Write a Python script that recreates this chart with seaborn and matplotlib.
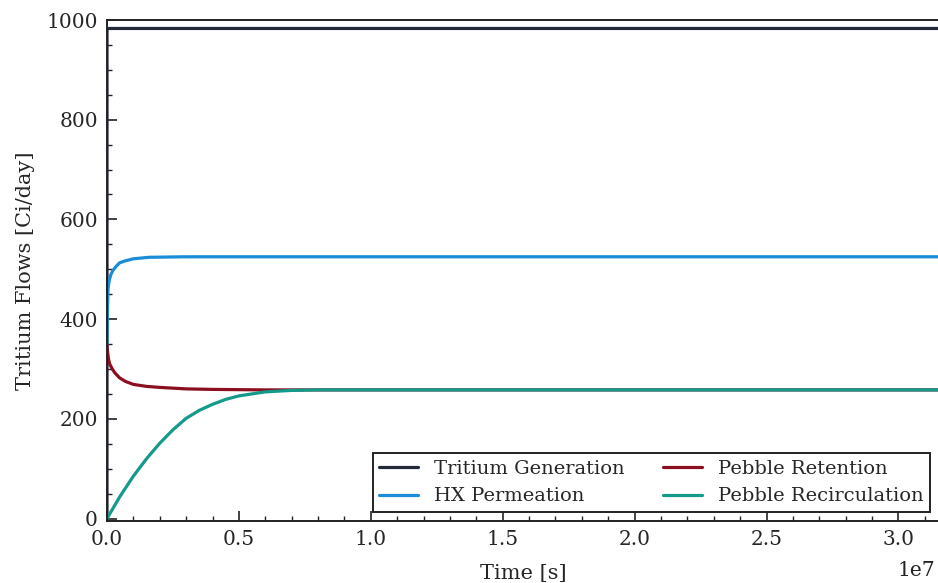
import numpy as np
import pandas as pd
import matplotlib
matplotlib.use("Agg")
import matplotlib.pyplot as plt
import seaborn as sns

# ---- data (time in units of 1e7 s, flows in Ci/day) ----
series_names = ["Tritium Generation", "HX Permeation", "Pebble Retention", "Pebble Recirculation"]
colors = ["#232b3b", "#1a8cd8", "#8c0f1f", "#139a8a"]

gen_t = [0.0, 0.0001, 3.1536]
gen_v = [0, 983, 983]

hx_t = [0.0, 0.001, 0.002, 0.004, 0.007, 0.01, 0.015, 0.023, 0.035, 0.048, 0.07, 0.1, 0.16, 0.29, 0.5, 1.0, 3.1536]
hx_v = [341, 395, 425, 461, 473, 481, 490, 498, 506, 513, 517, 521, 524, 525, 525, 525, 525]

ret_t = [0.0, 0.002, 0.005, 0.01, 0.02, 0.03, 0.048, 0.07, 0.1, 0.15, 0.2, 0.3, 0.4, 0.6, 1.0, 3.1536]
ret_v = [348, 335, 322, 310, 300, 292, 282, 275, 269, 265, 263, 260, 259, 258, 258, 258]

rec_t = [0.0, 0.05, 0.1, 0.15, 0.2, 0.25, 0.3, 0.35, 0.4, 0.45, 0.5, 0.6, 0.7, 0.8, 1.0, 3.1536]
rec_v = [0, 45, 85, 120, 151, 178, 201, 217, 229, 239, 246, 254, 257, 258, 258, 258]

x_ticks = [0.0, 0.5, 1.0, 1.5, 2.0, 2.5, 3.0]   # in 1e7 s
y_ticks = [0, 200, 400, 600, 800, 1000]

frames = []
for name, t, v in zip(series_names, [gen_t, hx_t, ret_t, rec_t], [gen_v, hx_v, ret_v, rec_v]):
    frames.append(pd.DataFrame({"time": np.array(t) * 1e7, "flow": v, "series": name}))
df = pd.concat(frames, ignore_index=True)

sns.set_theme(style="white")
plt.rcParams["font.family"] = ["DejaVu Serif"]
plt.rcParams["mathtext.fontset"] = "dejavuserif"

fig = plt.figure(figsize=(9.38, 5.83), dpi=100)
ax = fig.add_axes([107 / 938, 1 - 521 / 583, 1 - 107 / 938 + 0.001, (521 - 20) / 583])

sns.lineplot(data=df, x="time", y="flow", hue="series", hue_order=series_names,
             palette=colors, estimator=None, sort=False, linewidth=2.3, ax=ax)

ax.set_xlim(0, 3.1536e7)
ax.set_ylim(-5, 1000)
ax.set_xlabel("Time [s]", fontsize=15, labelpad=11)
ax.set_ylabel("Tritium Flows [Ci/day]", fontsize=15, labelpad=8)
ax.set_yticks(y_ticks)
ax.set_xticks([v * 1e7 for v in x_ticks])
ax.set_xticklabels([f"{v:.1f}" for v in x_ticks])
ax.xaxis.set_minor_locator(matplotlib.ticker.MultipleLocator(0.1e7))
ax.yaxis.set_minor_locator(matplotlib.ticker.MultipleLocator(50))
ax.tick_params(axis="both", which="major", direction="in", length=7, width=1.2, pad=6.5,
               labelsize=14.5, color="#222222", bottom=True, left=True, top=False, right=False)
ax.tick_params(axis="both", which="minor", direction="in", length=3.5, width=1.0,
               color="#222222", bottom=True, left=True, top=False, right=False)
fig.text(0.997, 1 - 570 / 583, "1e7", ha="right", va="center", fontsize=14.5, color="#222222")
for s in ax.spines.values():
    s.set_color("#222222")
    s.set_linewidth(1.4)

leg = ax.legend(ncol=2, loc="lower right", fontsize=14, frameon=True, fancybox=False,
                framealpha=1, edgecolor="#222222", borderpad=0.35, columnspacing=2.0,
                handletextpad=0.8, labelspacing=0.5, borderaxespad=0.45)
leg.get_frame().set_linewidth(1.4)
for line in leg.get_lines():
    line.set_linewidth(2.3)

fig.savefig("out.png", dpi=100)
